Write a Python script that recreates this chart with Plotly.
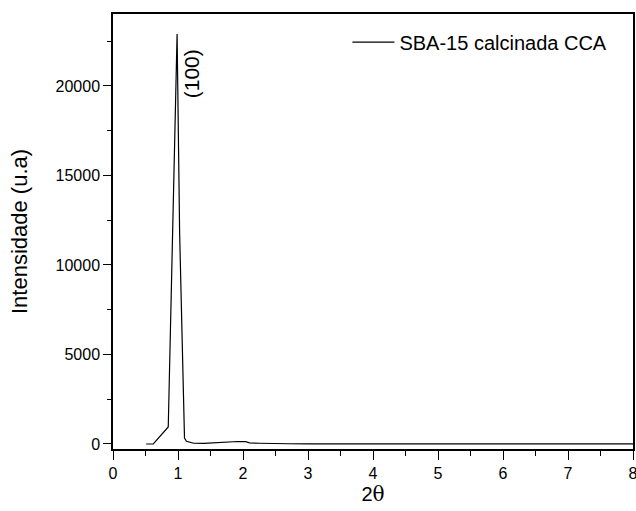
import plotly.graph_objects as go

two_theta = [0.51, 0.62, 0.85, 0.986, 1.025, 1.10, 1.13, 1.24, 1.40, 1.55, 1.69, 1.80, 1.92, 2.04, 2.10, 2.25, 2.42, 2.70, 3.0, 4.0, 5.0, 6.0, 7.0, 8.0]
intensity = [0, 0, 950, 22900, 11800, 330, 150, 40, 35, 60, 120, 110, 140, 130, 60, 40, 20, 12, 8, 5, 4, 3, 3, 2]

fig = go.Figure()
fig.add_trace(go.Scatter(
    x=two_theta, y=intensity, mode="lines",
    line=dict(color="black", width=1.2),
    name="SBA-15 calcinada CCA",
))

fig.add_annotation(
    x=1.22, y=20670, text="(100)", showarrow=False, textangle=-90,
    font=dict(size=21, color="black", family="Liberation Sans, Arial"),
)

fig.update_layout(
    width=636, height=511,
    margin=dict(l=113, r=3, t=14, b=62),
    paper_bgcolor="white", plot_bgcolor="white",
    font=dict(family="Liberation Sans, Arial", size=16, color="black"),
    showlegend=True,
    legend=dict(x=0.4508, y=0.98, xanchor="left", yanchor="top", itemwidth=42,
                bgcolor="rgba(0,0,0,0)", font=dict(size=20)),
    xaxis=dict(
        range=[0, 8], tickmode="linear", tick0=0, dtick=1, automargin=False,
        ticklabeloverflow="allow",
        ticks="outside", ticklen=9, tickwidth=1.3, tickcolor="black",
        showline=True, linecolor="black", linewidth=1.5, mirror=True,
        showgrid=False, zeroline=False,
        minor=dict(ticks="outside", ticklen=5, dtick=0.5, tickcolor="black", tickwidth=1.3),
        title=dict(text="2<span style=\"font-family:'DejaVu Serif', serif\">θ</span>",
                   font=dict(size=20), standoff=4),
    ),
    yaxis=dict(
        range=[-280, 24020], tickmode="linear", tick0=0, dtick=5000, automargin=False,
        tickformat="d",
        ticks="outside", ticklen=8, tickwidth=1.3, tickcolor="black",
        showline=True, linecolor="black", linewidth=1.5, mirror=True,
        showgrid=False, zeroline=False,
        minor=dict(ticks="outside", ticklen=4, dtick=2500, tickcolor="black", tickwidth=1.3),
        title=dict(text="Intensidade (u.a)", font=dict(size=22), standoff=22),
    ),
)

fig.write_html("out.html", config={"displayModeBar": False},
               post_script="document.body.style.margin='0px';")
